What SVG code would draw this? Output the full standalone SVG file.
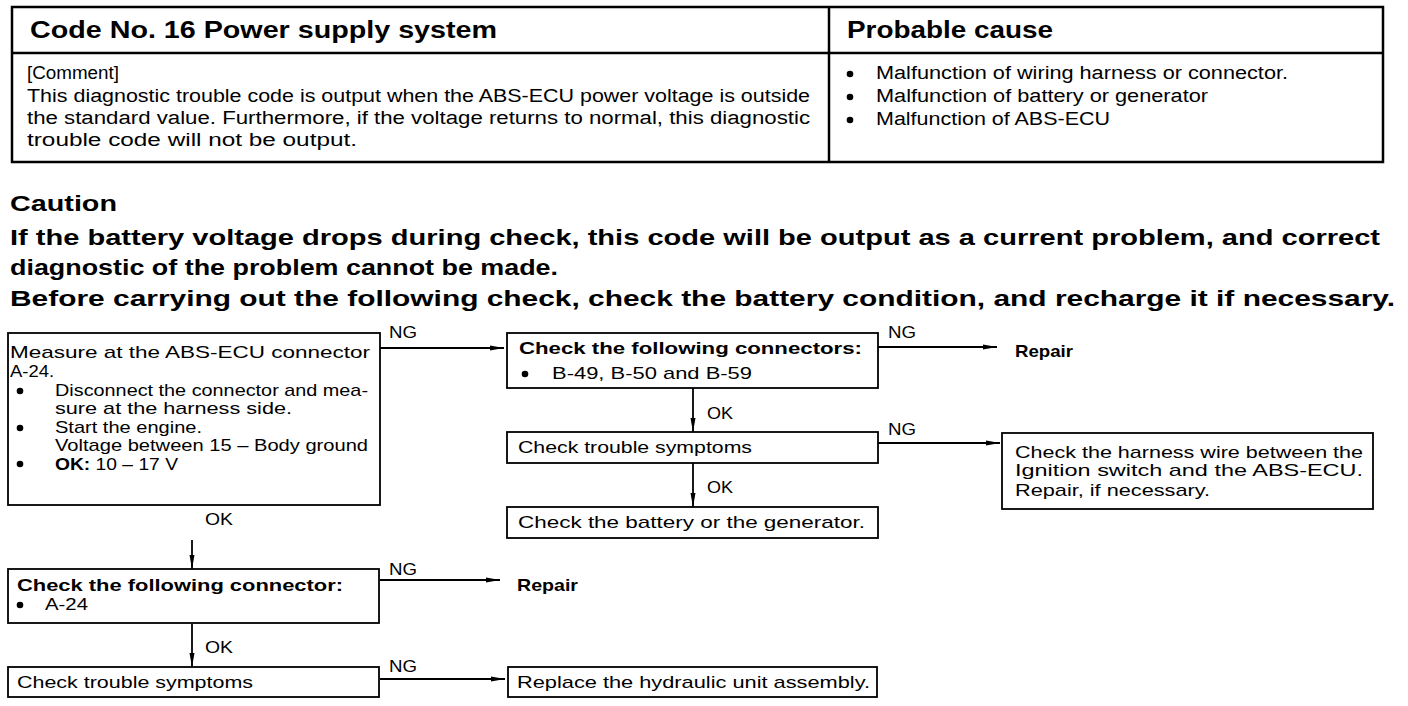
<svg xmlns="http://www.w3.org/2000/svg" width="1408" height="706" viewBox="0 0 1408 706">
<style>
text{font-family:"Liberation Sans",Arial,sans-serif;fill:#000}
.h{font-size:23px;font-weight:bold}
.c{font-size:22px;font-weight:bold}
.s{font-size:18px}
.f{font-size:17px}
.b{font-weight:bold}
.box{fill:#fff;stroke:#000;stroke-width:1.8}
.tb{fill:none;stroke:#000;stroke-width:2.5}
.conn{stroke:#000;stroke-width:1.8;fill:none}
.dot{fill:#000}
</style>
<defs>
<marker id="ah" markerUnits="userSpaceOnUse" markerWidth="15" markerHeight="8" refX="14" refY="4" orient="auto"><path d="M0,1.5 L14,4 L0,6.5 z" fill="#000"/></marker>
</defs>
<rect width="1408" height="706" fill="#fff"/>

<g id="table">
<rect class="tb" x="12" y="7" width="1371" height="155"/>
<line class="tb" x1="12" y1="53" x2="1383" y2="53"/>
<line class="tb" x1="829" y1="7" x2="829" y2="162" stroke-width="1.8"/>
<text class="h" x="30" y="38" textLength="467" lengthAdjust="spacingAndGlyphs">Code No. 16 Power supply system</text>
<text class="h" x="847" y="38" textLength="206" lengthAdjust="spacingAndGlyphs">Probable cause</text>
<text class="s" x="27" y="79" textLength="92" lengthAdjust="spacingAndGlyphs">[Comment]</text>
<text class="s" x="27" y="102" textLength="783" lengthAdjust="spacingAndGlyphs">This diagnostic trouble code is output when the ABS-ECU power voltage is outside</text>
<text class="s" x="27" y="124" textLength="783" lengthAdjust="spacingAndGlyphs">the standard value.  Furthermore, if the voltage returns to normal, this diagnostic</text>
<text class="s" x="27" y="146" textLength="330" lengthAdjust="spacingAndGlyphs">trouble code will not be output.</text>
<circle class="dot" cx="850" cy="74" r="3.3"/>
<circle class="dot" cx="850" cy="97" r="3.3"/>
<circle class="dot" cx="850" cy="120" r="3.3"/>
<text class="s" x="876" y="79" textLength="412" lengthAdjust="spacingAndGlyphs">Malfunction of wiring harness or connector.</text>
<text class="s" x="876" y="102" textLength="332" lengthAdjust="spacingAndGlyphs">Malfunction of battery or generator</text>
<text class="s" x="876" y="125" textLength="234" lengthAdjust="spacingAndGlyphs">Malfunction of ABS-ECU</text>
</g>

<g id="caution">
<text class="c" x="10" y="211" textLength="107" lengthAdjust="spacingAndGlyphs">Caution</text>
<text class="c" x="10" y="245" textLength="1370" lengthAdjust="spacingAndGlyphs">If the battery voltage drops during check, this code will be output as a current problem, and correct</text>
<text class="c" x="10" y="275" textLength="548" lengthAdjust="spacingAndGlyphs">diagnostic  of  the  problem  cannot  be  made.</text>
<text class="c" x="10" y="306" textLength="1385" lengthAdjust="spacingAndGlyphs">Before carrying out the following check, check the battery condition, and recharge it if necessary.</text>
</g>

<g id="connectors">
<line class="conn" x1="380" y1="348" x2="504" y2="348" marker-end="url(#ah)" stroke-width="2.4"/>
<line class="conn" x1="878" y1="347" x2="997" y2="347" marker-end="url(#ah)" stroke-width="2.4"/>
<line class="conn" x1="693" y1="388" x2="693" y2="432" marker-end="url(#ah)"/>
<line class="conn" x1="878" y1="443" x2="1000" y2="443" marker-end="url(#ah)"/>
<line class="conn" x1="693" y1="463" x2="693" y2="507" marker-end="url(#ah)"/>
<line class="conn" x1="192" y1="540" x2="192" y2="569" marker-end="url(#ah)"/>
<line class="conn" x1="380" y1="580" x2="500" y2="580" marker-end="url(#ah)"/>
<line class="conn" x1="192" y1="624" x2="192" y2="667" marker-end="url(#ah)"/>
<line class="conn" x1="380" y1="679" x2="505" y2="679" marker-end="url(#ah)"/>
<text class="f" x="389" y="338" font-size="18" textLength="28" lengthAdjust="spacingAndGlyphs">NG</text>
<text class="f" x="888" y="338" font-size="18" textLength="28" lengthAdjust="spacingAndGlyphs">NG</text>
<text class="f" x="888" y="435" font-size="18" textLength="28" lengthAdjust="spacingAndGlyphs">NG</text>
<text class="f" x="389" y="575" font-size="18" textLength="28" lengthAdjust="spacingAndGlyphs">NG</text>
<text class="f" x="389" y="672" font-size="18" textLength="28" lengthAdjust="spacingAndGlyphs">NG</text>
<text class="f" x="707" y="419" textLength="26" lengthAdjust="spacingAndGlyphs">OK</text>
<text class="f" x="707" y="493" textLength="26" lengthAdjust="spacingAndGlyphs">OK</text>
<text class="f" x="205" y="525" textLength="28" lengthAdjust="spacingAndGlyphs">OK</text>
<text class="f" x="205" y="653" textLength="28" lengthAdjust="spacingAndGlyphs">OK</text>
</g>

<g id="nodeA">
<rect class="box" x="8" y="333" width="372" height="172"/>
<text class="f" x="10" y="358" textLength="360" lengthAdjust="spacingAndGlyphs">Measure at the ABS-ECU connector</text>
<text class="f" x="10" y="377" textLength="44" lengthAdjust="spacingAndGlyphs">A-24.</text>
<circle class="dot" cx="20" cy="391" r="3.3"/>
<text class="f" x="55" y="396" textLength="313" lengthAdjust="spacingAndGlyphs">Disconnect the connector and mea-</text>
<text class="f" x="55" y="414" textLength="237" lengthAdjust="spacingAndGlyphs">sure at the harness side.</text>
<circle class="dot" cx="20" cy="428" r="3.3"/>
<text class="f" x="55" y="433" textLength="147" lengthAdjust="spacingAndGlyphs">Start the engine.</text>
<text class="f" x="55" y="451" textLength="313" lengthAdjust="spacingAndGlyphs">Voltage between 15 – Body ground</text>
<circle class="dot" cx="20" cy="464" r="3.3"/>
<text class="f" x="55" y="470" textLength="123" lengthAdjust="spacingAndGlyphs"><tspan class="b">OK:</tspan> 10 – 17  V</text>
</g>

<g id="nodeB">
<rect class="box" x="507" y="333" width="371" height="55"/>
<text class="f b" x="519" y="354" textLength="343" lengthAdjust="spacingAndGlyphs">Check the following connectors:</text>
<circle class="dot" cx="525" cy="374" r="3.3"/>
<text class="f" x="552" y="379" textLength="200" lengthAdjust="spacingAndGlyphs">B-49, B-50 and B-59</text>
</g>

<g id="repair1">
<text class="f b" x="1015" y="357" textLength="58" lengthAdjust="spacingAndGlyphs">Repair</text>
</g>

<g id="nodeC">
<rect class="box" x="507" y="432" width="371" height="31"/>
<text class="f" x="518" y="453" textLength="234" lengthAdjust="spacingAndGlyphs">Check trouble symptoms</text>
</g>

<g id="nodeD">
<rect class="box" x="507" y="507" width="371" height="31"/>
<text class="f" x="518" y="528" textLength="347" lengthAdjust="spacingAndGlyphs">Check the battery or the generator.</text>
</g>

<g id="nodeH">
<rect class="box" x="1002" y="433" width="371" height="76"/>
<text class="f" x="1015" y="458" textLength="348" lengthAdjust="spacingAndGlyphs">Check the harness wire between the</text>
<text class="f" x="1015" y="476" textLength="348" lengthAdjust="spacingAndGlyphs">Ignition   switch   and   the   ABS-ECU.</text>
<text class="f" x="1015" y="496" textLength="195" lengthAdjust="spacingAndGlyphs">Repair, if necessary.</text>
</g>

<g id="nodeE">
<rect class="box" x="8" y="569" width="371" height="54"/>
<text class="f b" x="17" y="591" textLength="326" lengthAdjust="spacingAndGlyphs">Check the following connector:</text>
<circle class="dot" cx="20" cy="605" r="3.3"/>
<text class="f" x="45" y="610" textLength="43" lengthAdjust="spacingAndGlyphs">A-24</text>
</g>

<g id="repair2">
<text class="f b" x="517" y="591" textLength="61" lengthAdjust="spacingAndGlyphs">Repair</text>
</g>

<g id="nodeF">
<rect class="box" x="8" y="667" width="371" height="30"/>
<text class="f" x="17" y="688" textLength="236" lengthAdjust="spacingAndGlyphs">Check trouble symptoms</text>
</g>

<g id="nodeG">
<rect class="box" x="508" y="667" width="369" height="30"/>
<text class="f" x="517" y="688" textLength="353" lengthAdjust="spacingAndGlyphs">Replace the hydraulic unit assembly.</text>
</g>
</svg>
